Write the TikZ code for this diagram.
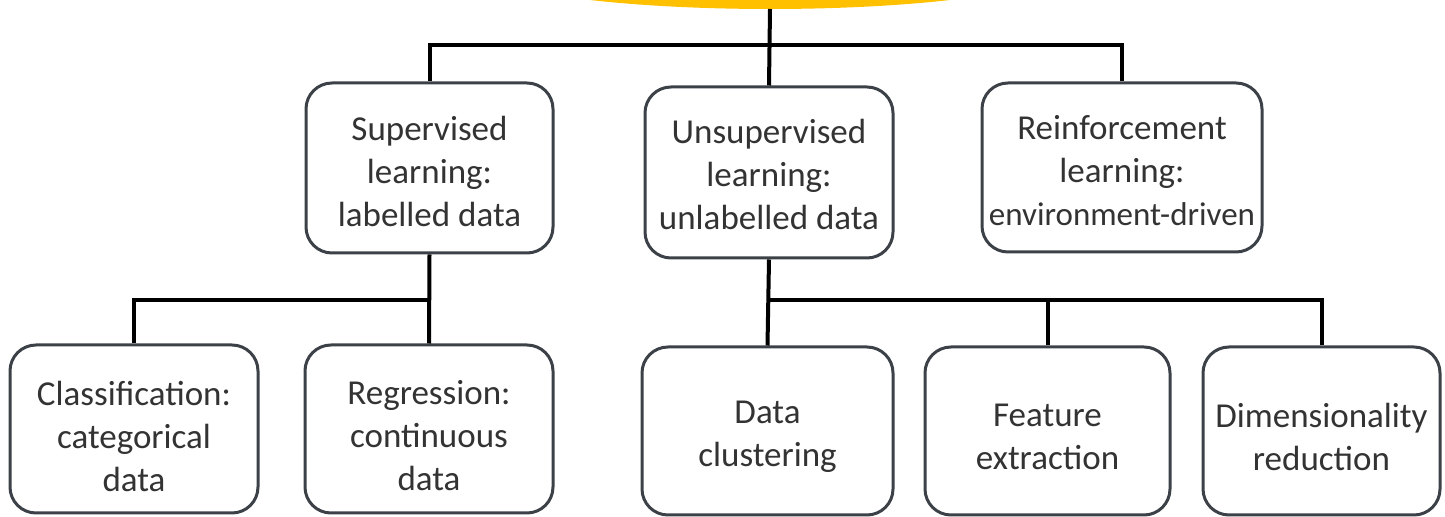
\documentclass[tikz,border=0pt]{standalone}
\usepackage{fontspec}
\setmainfont{Carlito}
\definecolor{boxline}{HTML}{3C4148}
\definecolor{txt}{HTML}{333333}
\definecolor{sun}{HTML}{FFC000}
\begin{document}
\begin{tikzpicture}[x=0.5pt,y=-0.5pt,
  cat/.style={draw=boxline, line width=1.5pt, rounded corners=13pt, fill=white,
    inner sep=0pt},
  lbl/.style={align=center, text=txt, inner sep=0pt,
    font=\fontsize{17.5}{21.5}\selectfont},
  link/.style={draw=black, line width=2pt}]
\useasboundingbox (0,0) rectangle (1445,517);

% root oval, partly above the page
\fill[sun] (770,-36) ellipse [x radius=150pt, y radius=22.5pt];
\coordinate (root) at (770,9);

% first level boxes
\node[cat, minimum width=123.5pt, minimum height=85pt] (sup) at (429.5,168) {};
\node[cat, minimum width=124pt, minimum height=85.5pt] (uns) at (769,172.5) {};
\node[cat, minimum width=140pt, minimum height=84.5pt] (rei) at (1122,167.5) {};

% second level boxes
\node[cat, minimum width=124pt, minimum height=84pt] (cls) at (134,429) {};
\node[cat, minimum width=124pt, minimum height=84pt] (reg) at (429,429) {};
\node[cat, minimum width=125.5pt, minimum height=84pt] (clu) at (767.5,431) {};
\node[cat, minimum width=122.5pt, minimum height=84pt] (fea) at (1047.5,431) {};
\node[cat, minimum width=118.5pt, minimum height=84pt] (dim) at (1321.5,431) {};

% box texts, set a little below the box centres
\node[lbl] (sup-t) at ([yshift=-1.5pt]sup.center) {Supervised\\learning:\\labelled data};
\node[lbl] (uns-t) at ([yshift=-1pt]uns.center) {Unsupervised\\learning:\\unlabelled data};
\node[lbl] (rei-t) at ([yshift=-1.5pt]rei.center)
  {Reinforcement\\learning:\\{\fontsize{16.5}{21.5}\selectfont environment-driven}};
\node[lbl] (cls-t) at ([yshift=-3.5pt]cls.center) {Classification:\\categorical\\data};
\node[lbl] (reg-t) at ([yshift=-3.5pt]reg.center) {Regression:\\continuous\\data};
\node[lbl] (clu-t) at ([yshift=-3pt]clu.center) {Data\\clustering};
\node[lbl] (fea-t) at ([yshift=-3pt]fea.center) {Feature\\extraction};
\node[lbl] (dim-t) at ([yshift=-3pt]dim.center) {Dimensionality\\reduction};

% bus junctions
\coordinate (bus0) at (770,45);
\coordinate (bus1) at (430,300);
\coordinate (bus2) at (769,300);

% connectors
\draw[link] (root) -- (uns.north);
\draw[link] (sup.north) |- (bus0) -| (rei.north);
\draw[link] (sup.south) -- (reg.north);
\draw[link] (bus1) -| (cls.north);
\draw[link] (uns.south) -- (clu.north);
\draw[link] (bus2) -| (fea.north);
\draw[link] (bus2) -| (dim.north);
\end{tikzpicture}
\end{document}
